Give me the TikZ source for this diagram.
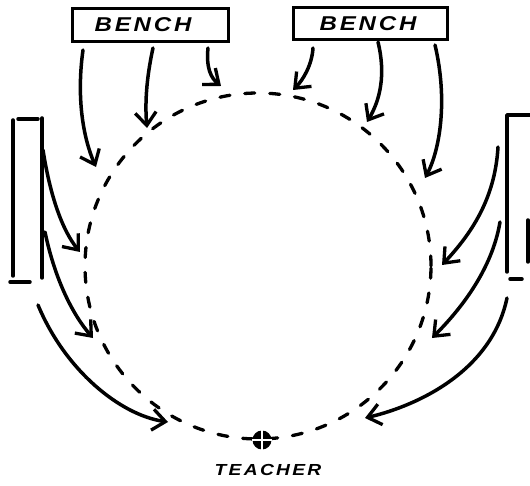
\documentclass[tikz,border=0pt]{standalone}
\usepackage{fontspec}
\setmainfont{Liberation Sans}
\usetikzlibrary{arrows.meta}
\tikzset{
  sketch/.style={line width=3.5pt, line cap=round, line join=round},
  arr/.style={sketch, -{Straight Barb[length=13pt,width=21pt,line width=3.3pt]}},
  benchbox/.style={draw, line width=3pt, minimum width=156pt, minimum height=33pt, inner sep=0pt},
  ring/.style={line width=3.3pt, dash pattern=on 10pt off 15pt, line cap=round},
  lettering/.style={font=\fontsize{20}{20}\selectfont\bfseries\itshape\addfontfeatures{LetterSpace=12}}
}
\begin{document}
\begin{tikzpicture}[x=1pt,y=-1pt]
\useasboundingbox (0,0) rectangle (530,486);
% circle
\coordinate (c) at (258,266);
\draw[ring] (c) circle[radius=173pt];
% teacher
\node[circle, fill=black, minimum size=19pt, inner sep=0pt] (teacher) at (262,440) {};
\draw[white, line width=2pt] (teacher.north) -- (teacher.south) (teacher.west) -- (teacher.east);
\node[font=\fontsize{16}{16}\selectfont\bfseries\itshape\addfontfeatures{LetterSpace=12}] (tlabel) at (268,470) {\scalebox{1.2}[1]{TEACHER}};
% top benches
\node[benchbox] (benchL) at (150,25) {};
\node[benchbox, minimum width=154pt, minimum height=32pt] (benchR) at (370,24) {};
\node[lettering] at (143,25) {\scalebox{1.2}[1]{BENCH}};
\node[lettering] at (368,24) {\scalebox{1.2}[1]{BENCH}};
% side benches
\draw[sketch] (13,120) -- (13,276);
\draw[sketch] (42,118) -- (42,278);
\draw[sketch] (18,119) -- (38,119);
\draw[sketch] (10,282) -- (30,282);
\draw[sketch] (530,115) -- (507,115) -- (507,272);
\draw[sketch] (510,279) -- (522,279);
\draw[sketch] (528,220) -- (528,262);
% coordinates
\coordinate (a1s) at (83,50);  \coordinate (a1e) at (96,167);
\coordinate (a2s) at (153,48); \coordinate (a2e) at (147,128);
\coordinate (a3s) at (208,48); \coordinate (a3e) at (221,86);
\coordinate (a4s) at (313,48); \coordinate (a4e) at (293,90);
\coordinate (a5s) at (378,42); \coordinate (a5e) at (367,122);
\coordinate (a6s) at (435,45); \coordinate (a6e) at (425,178);
\coordinate (a7s) at (43,150); \coordinate (a7e) at (80,252);
\coordinate (a8s) at (45,232); \coordinate (a8e) at (93,338);
\coordinate (a9s) at (38,305); \coordinate (a9e) at (168,422);
\coordinate (a10s) at (498,147); \coordinate (a10e) at (442,265);
\coordinate (a11s) at (500,222); \coordinate (a11e) at (432,338);
\coordinate (a12s) at (507,298); \coordinate (a12e) at (365,418);
% arrows
\draw[arr] (a1s) .. controls (76,100) and (84,140) .. (a1e);
\draw[arr] (a2s) .. controls (146,80) and (145,105) .. (a2e);
\draw[arr] (a3s) .. controls (206,68) and (211,78) .. (a3e);
\draw[arr] (a4s) .. controls (312,65) and (303,80) .. (a4e);
\draw[arr] (a5s) .. controls (386,75) and (380,100) .. (a5e);
\draw[arr] (a6s) .. controls (448,100) and (440,150) .. (a6e);
\draw[arr] (a7s) .. controls (50,195) and (62,230) .. (a7e);
\draw[arr] (a8s) .. controls (55,280) and (73,315) .. (a8e);
\draw[arr] (a9s) .. controls (65,370) and (120,415) .. (a9e);
\draw[arr] (a10s) .. controls (495,200) and (470,235) .. (a10e);
\draw[arr] (a11s) .. controls (492,270) and (460,310) .. (a11e);
\draw[arr] (a12s) .. controls (492,370) and (420,405) .. (a12e);
\end{tikzpicture}
\end{document}
